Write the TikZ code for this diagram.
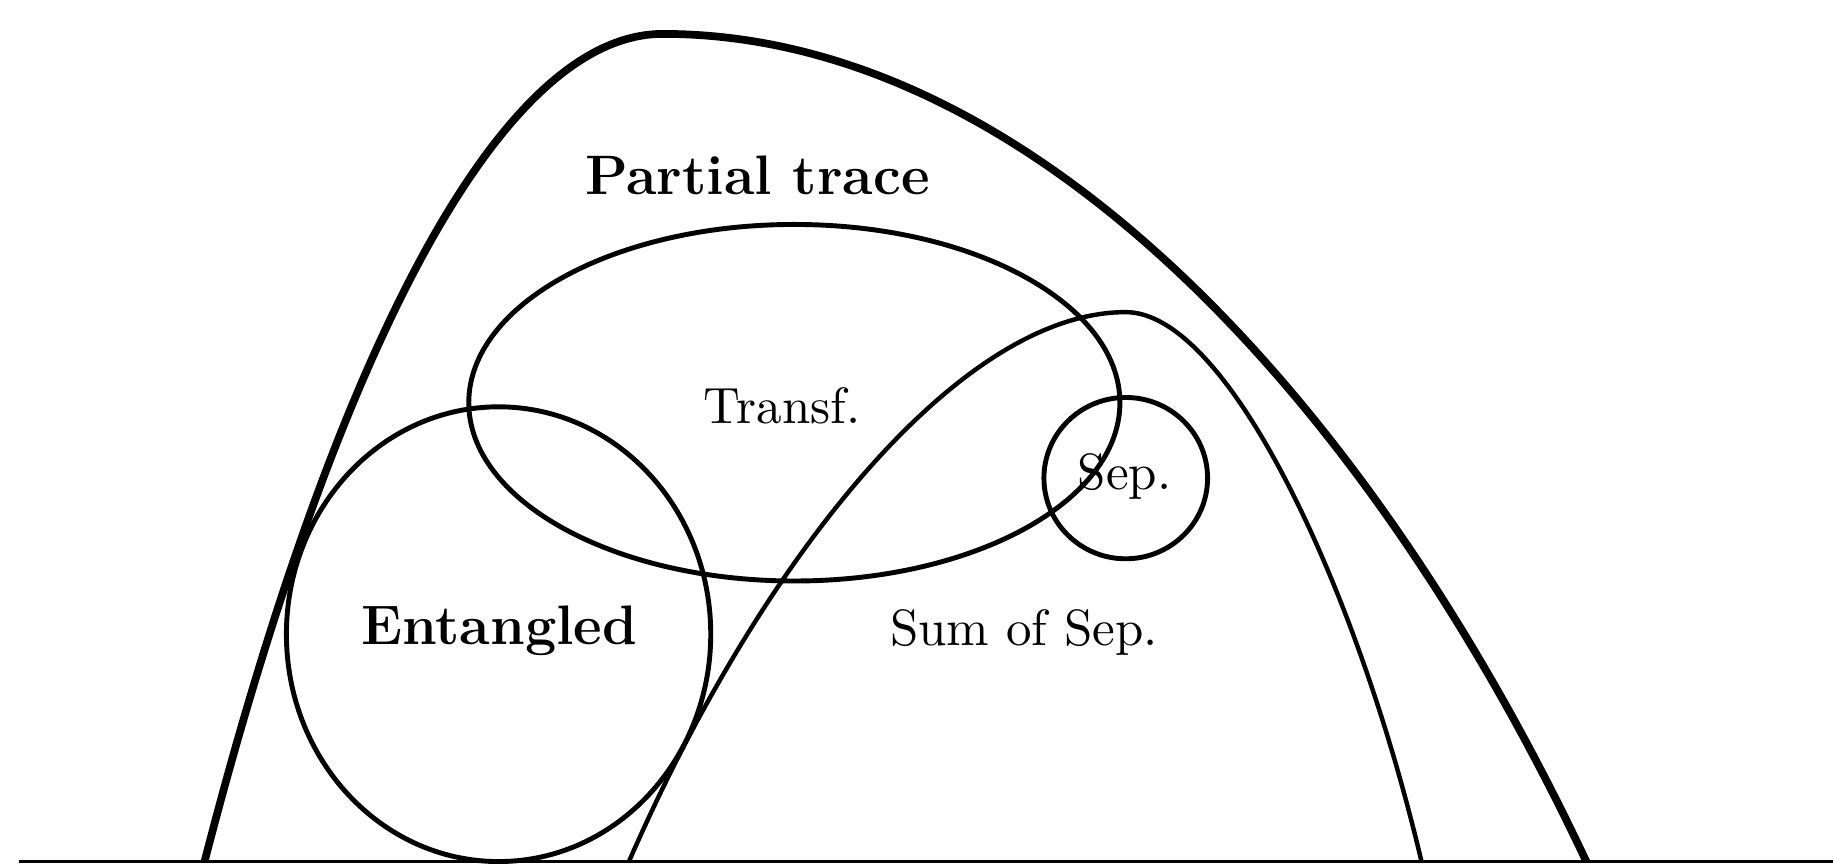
\documentclass[tikz,border=0pt]{standalone}
\begin{document}
\begin{tikzpicture}[x=0.25pt,y=-0.25pt,
  lbl/.style={inner sep=0pt,font=\fontsize{10.9}{13}\selectfont},
  blbl/.style={inner sep=0pt,font=\fontsize{11.9}{14}\selectfont\bfseries},
  set line/.style={line width=1.05pt},
  sum line/.style={line width=0.95pt},
  outer/.style={line width=1.65pt}]
\useasboundingbox (0,0) rectangle (1568,739);
% baseline
\coordinate (bl) at (16,737);
\coordinate (br) at (1568,737);
\draw[line width=0.5pt] (bl) -- (br);
% partial trace curve
\coordinate (pa) at (175,737);
\coordinate (pt) at (567,29);
\coordinate (pb) at (1357,737);
\draw[outer] (pa) .. controls (280,330) and (420,29) .. (pt) .. controls (880,29) and (1170,340) .. (pb);
% sum of sep curve
\coordinate (sa) at (538,737);
\coordinate (st) at (963,267);
\coordinate (sb) at (1216,737);
\draw[sum line] (sa) .. controls (650,480) and (820,267) .. (st) .. controls (1050,267) and (1160,500) .. (sb);
% transf ellipse
\draw[set line] (679.5,344.5) ellipse [x radius=278.5, y radius=152.5];
% entangled
\draw[set line] (426.5,542.5) ellipse [x radius=181.5, y radius=194.5];
% sep circle
\draw[set line] (963,409) ellipse [x radius=70, y radius=69];
% labels
\node[blbl] (ptl) at (648,150) {Partial trace};
\node[lbl] (tl) at (669,347) {Transf.};
\node[lbl] (sl) at (962,408) {Sep.};
\node[blbl] (el) at (427,540) {Entangled};
\node[lbl] (ssl) at (876,541) {Sum of Sep.};
\end{tikzpicture}
\end{document}
